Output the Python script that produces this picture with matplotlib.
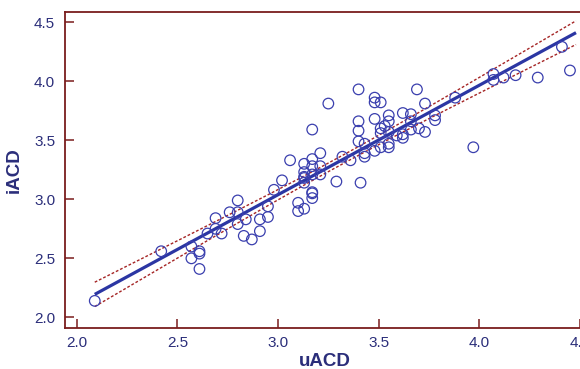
import numpy as np
import matplotlib
matplotlib.use("Agg")
import matplotlib.pyplot as plt

uACD = [2.09, 2.42, 2.57, 2.57, 2.61, 2.61, 2.61, 2.65, 2.69, 2.69,
        2.72, 2.76, 2.80, 2.80, 2.80, 2.84, 2.83, 2.87, 2.91, 2.91,
        2.95, 2.95, 2.98, 3.02, 3.10, 3.10, 3.13, 3.17, 3.17, 3.29,
        3.41, 3.06, 3.13, 3.17, 3.21, 3.17, 3.21, 3.13, 3.17, 3.21,
        3.13, 3.13, 3.17, 3.25, 3.32, 3.36, 3.40, 3.40, 3.40, 3.40,
        3.43, 3.43, 3.43, 3.48, 3.48, 3.48, 3.51, 3.55, 3.55, 3.51,
        3.51, 3.55, 3.59, 3.62, 3.62, 3.62, 3.66, 3.66, 3.66, 3.70,
        3.73, 3.69, 3.73, 3.78, 3.78, 3.51, 3.55, 3.55, 3.88, 4.07,
        4.07, 4.12, 4.18, 4.29, 4.41, 4.45, 3.97, 3.17, 3.13, 3.48,
        3.53]
iACD = [2.14, 2.56, 2.60, 2.50, 2.56, 2.54, 2.41, 2.71, 2.84, 2.75,
        2.71, 2.89, 2.99, 2.89, 2.79, 2.83, 2.69, 2.66, 2.83, 2.73,
        2.94, 2.85, 3.08, 3.16, 2.97, 2.90, 2.92, 3.05, 3.01, 3.15,
        3.14, 3.33, 3.30, 3.34, 3.39, 3.28, 3.28, 3.23, 3.21, 3.21,
        3.18, 3.14, 3.59, 3.81, 3.36, 3.33, 3.93, 3.66, 3.58, 3.49,
        3.47, 3.39, 3.36, 3.41, 3.86, 3.82, 3.82, 3.71, 3.66, 3.60,
        3.56, 3.57, 3.54, 3.55, 3.52, 3.73, 3.72, 3.66, 3.59, 3.60,
        3.57, 3.93, 3.81, 3.71, 3.67, 3.44, 3.47, 3.44, 3.86, 4.06,
        4.01, 4.03, 4.05, 4.03, 4.29, 4.09, 3.44, 3.06, 3.19, 3.68,
        3.62]
fit_range = (2.09, 4.48)
ticks = [2.0, 2.5, 3.0, 3.5, 4.0, 4.5]
tick_labels = ["2.0", "2.5", "3.0", "3.5", "4.0", "4.5"]

x = np.array(uACD)
y = np.array(iACD)
n = len(x)
b, a = np.polyfit(x, y, 1)
res = y - (a + b * x)
s = np.sqrt(np.sum(res ** 2) / (n - 2))
sxx = np.sum((x - x.mean()) ** 2)
xf = np.linspace(fit_range[0], fit_range[1], 200)
yf = a + b * xf
se = s * np.sqrt(1.0 / n + (xf - x.mean()) ** 2 / sxx)
tval = 1.987
spine_c = "#7a1c1c"
text_c = "#2b2e7a"

plt.rcParams['font.family'] = ['Liberation Sans', 'DejaVu Sans']
fig = plt.figure(figsize=(5.8, 3.69), dpi=100)
ax = fig.add_axes([0.112, 0.111, 0.895, 0.8565])

ax.plot(xf, yf + tval * se, color="#a52525", lw=1.0, ls=(0, (2.0, 1.4)), zorder=2)
ax.plot(xf, yf - tval * se, color="#a52525", lw=1.0, ls=(0, (2.0, 1.4)), zorder=2)
ax.plot(xf, yf, color="#2b36a3", lw=2.3, zorder=3, solid_capstyle="butt")
ax.scatter(x, y, s=58, facecolors="none", edgecolors="#3a3fae", linewidths=0.9, zorder=4)

ax.set_xlim(1.942, 4.52)
ax.set_ylim(1.91, 4.585)
ax.set_xticks(ticks)
ax.set_xticklabels(tick_labels)
ax.set_yticks(ticks)
ax.set_yticklabels(tick_labels)
for sp in ax.spines.values():
    sp.set_color(spine_c)
    sp.set_linewidth(1.3)
ax.tick_params(direction="in", length=6.5, width=1.1, color=spine_c,
               labelcolor=text_c, labelsize=11, pad=6)
ax.tick_params(axis="y", pad=7)
ax.set_xlabel("uACD", fontsize=13.5, fontweight="bold", color=text_c, labelpad=2)
ax.set_ylabel("iACD", fontsize=13.5, fontweight="bold", color=text_c, labelpad=8)

fig.savefig("out.png", dpi=100)
